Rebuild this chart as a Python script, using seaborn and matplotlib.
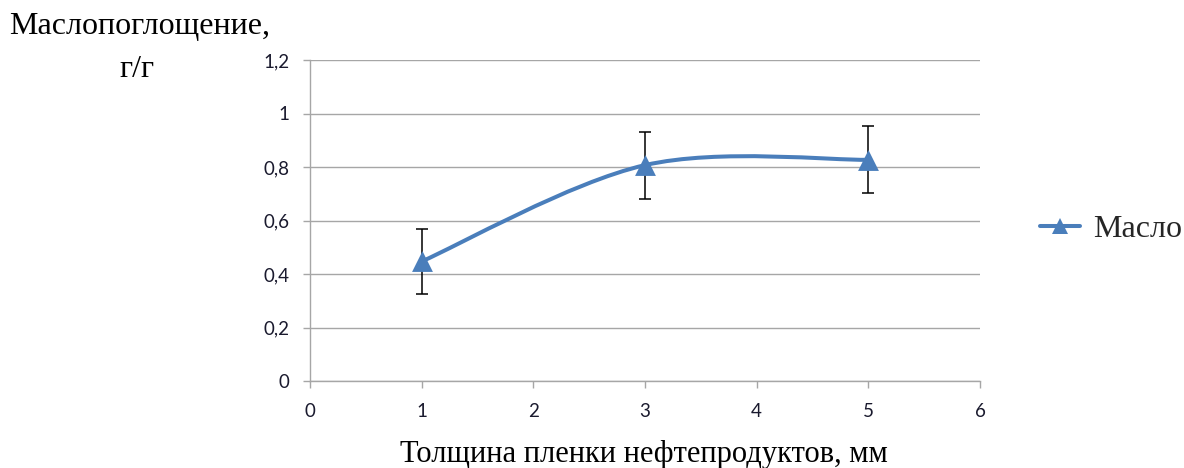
import numpy as np
import pandas as pd
import seaborn as sns
import matplotlib
matplotlib.use("Agg")
import matplotlib.pyplot as plt
from matplotlib.path import Path
from matplotlib.patches import PathPatch
from matplotlib.lines import Line2D

# Film thickness (mm) vs oil absorption (g/g)
thickness = [1, 3, 5]
absorption = [0.447, 0.807, 0.827]
error = [0.121, 0.125, 0.125]
series_name = "Масло"

x_ticks = [0, 1, 2, 3, 4, 5, 6]
x_ticklabels = ["0", "1", "2", "3", "4", "5", "6"]
y_ticks = [0, 0.2, 0.4, 0.6, 0.8, 1.0, 1.2]
y_ticklabels = ["0", "0,2", "0,4", "0,6", "0,8", "1", "1,2"]

y_title_1 = "Маслопоглощение,"
y_title_2 = "г/г"
x_title = "Толщина пленки нефтепродуктов, мм"

df = pd.DataFrame({"x": thickness, "y": absorption, "err": error})

sns.set_theme(style="white")
plt.rcParams["font.family"] = ["Lato", "DejaVu Sans"]

BLUE = "#4a7ebb"
GRID = "#a6a6a6"
SERIF = ["Liberation Serif", "DejaVu Serif"]

fig = plt.figure(figsize=(11.84, 4.68), dpi=100)
ax = fig.add_axes([310 / 1184, 1 - 381 / 468, 670 / 1184, 321 / 468])

ax.set_xlim(0, 6)
ax.set_ylim(0, 1.2)
ax.set_xticks(x_ticks)
ax.set_xticklabels(x_ticklabels)
ax.set_yticks(y_ticks)
ax.set_yticklabels(y_ticklabels)
ax.yaxis.grid(True, color=GRID, linewidth=1.0)
ax.set_axisbelow(True)

for side in ("top", "right"):
    ax.spines[side].set_visible(False)
for side in ("left", "bottom"):
    ax.spines[side].set_color(GRID)
    ax.spines[side].set_linewidth(1.0)

ax.tick_params(axis="both", which="major", direction="out", length=5,
               width=1.0, color=GRID, labelsize=13.5, labelcolor="#1a1a2e",
               left=True, bottom=True)
ax.tick_params(axis="y", pad=10)
ax.tick_params(axis="x", pad=11)

# Error bars
ax.errorbar(df["x"], df["y"], yerr=df["err"], fmt="none", ecolor="black",
            elinewidth=1.1, capsize=4, capthick=1.1, zorder=2)

# Smoothed connecting curve (cubic Bezier segments, Catmull-Rom style control points)
xs = df["x"].to_numpy(dtype=float)
ys = df["y"].to_numpy(dtype=float)
n = len(xs)
verts = [(xs[0], ys[0])]
codes = [Path.MOVETO]
for i in range(n - 1):
    p0 = np.array([xs[max(i - 1, 0)], ys[max(i - 1, 0)]])
    p1 = np.array([xs[i], ys[i]])
    p2 = np.array([xs[i + 1], ys[i + 1]])
    p3 = np.array([xs[min(i + 2, n - 1)], ys[min(i + 2, n - 1)]])
    c1 = p1 + (p2 - p0) / 6.0
    c2 = p2 - (p3 - p1) / 6.0
    verts += [tuple(c1), tuple(c2), tuple(p2)]
    codes += [Path.CURVE4, Path.CURVE4, Path.CURVE4]
ax.add_patch(PathPatch(Path(verts, codes), facecolor="none", edgecolor=BLUE,
                       linewidth=2.9, capstyle="round", joinstyle="round", zorder=3))

# Triangle markers
sns.scatterplot(data=df, x="x", y="y", marker="^", s=15 ** 2, color=BLUE,
                edgecolor=BLUE, linewidth=0, ax=ax, zorder=4, legend=False)
ax.set_xlabel("")
ax.set_ylabel("")

# Titles
fig.text(140 / 1184, 1 - 34 / 468, y_title_1, ha="center", va="baseline",
         fontsize=23, family=SERIF, color="black")
fig.text(137 / 1184, 1 - 77 / 468, y_title_2, ha="center", va="baseline",
         fontsize=23, family=SERIF, color="black")
fig.text(644 / 1184, 1 - 462 / 468, x_title, ha="center", va="baseline",
         fontsize=22, family=SERIF, color="black")

# Legend
handle = Line2D([], [], color=BLUE, linewidth=2.9, marker="^", markersize=11,
                markeredgewidth=0)
fig.legend([handle], [series_name], loc="center left",
           bbox_to_anchor=(1040 / 1184, 1 - 229 / 468), frameon=False,
           prop={"family": SERIF, "size": 23}, handlelength=1.25,
           handletextpad=0.4, borderaxespad=0, borderpad=0)

fig.savefig("out.png", dpi=100)
